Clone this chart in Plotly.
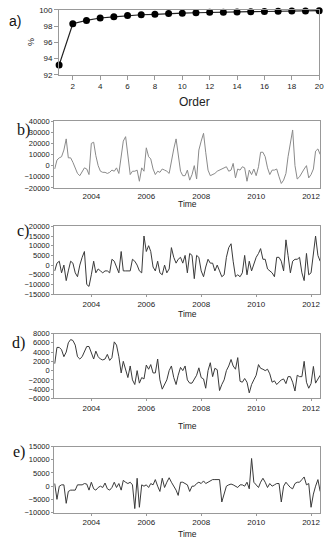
import plotly.graph_objects as go
import pandas as pd

# ---- data ----
order = list(range(1, 21))
pct = [93.2, 98.3, 98.7, 99.0, 99.15, 99.3, 99.4, 99.45, 99.55, 99.6,
       99.65, 99.7, 99.72, 99.75, 99.78, 99.8, 99.82, 99.85, 99.87, 99.9]

series_b = [-3000, 5000, 7000, 8000, 14000, 24000, 7000, 7000, 3000, -2000,
            -7000, -9000, -5000, -2000, -3000, -8000, 20000, 21000, 9000, 0,
            -5000, -6000, -6000, -7000, -6000, -4000, -5000, -2000, -7000, 10000,
            22000, 26000, 10000, -8000, -5000, -5000, -4000, -14000, -2000, -5000,
            16000, 8000, 6000, -3000, -8000, -5000, -6000, -3000, -4000, -5000,
            -7000, 5000, 15000, 24000, 10000, -5000, -9000, -9000, -4000, -13000,
            -8000, 0, -12000, 14000, 22000, 29000, 12000, -4000, -9000, -8000,
            -7000, -5000, -4000, -3000, -2000, -1000, -5000, -4000, 2000, -11000,
            -3000, -4000, -1000, -2000, -14000, -4000, -8000, -3000, -9000, -1000,
            12000, 12000, 8000, -2000, -8000, -4000, -4000, -3000, -10000, -16000,
            -13000, -7000, 8000, 22000, 32000, 0, -12000, -10000, -6000, -3000,
            0, -11000, -8000, -3000, 13000, 15000, 10000]

series_c = [-3000, 1000, 2000, -4000, 0, -8000, -3000, 2000, 1000, -4000,
            -6000, 0, 4000, 7000, -10000, -11000, -5000, 2000, -4000, -2000,
            -3000, -4000, -3000, -3000, -4000, 3000, 2000, -1000, -4000, 7000,
            -3000, -3000, -3000, -3000, 3000, 2000, 0, -3000, -4000, 15000,
            7000, 10000, 7000, -1000, -3000, 2000, -4000, -5000, 0, -4000,
            -2000, 9000, 4000, 1000, 3000, 4000, 1000, 5000, -4000, 6000,
            5000, -7000, 5000, 4000, -3000, -6000, -1000, 3000, 1000, 1000,
            -3000, 0, -3000, -6000, -5000, 4000, 9000, 11000, 2000, -6000,
            -5000, -6000, -4000, 5000, -5000, 2000, -3000, 0, 4000, 6000,
            8500, 3000, 3000, -2000, -3000, -4000, -6000, 4000, 4000, 2000,
            -3000, 13000, 5000, -4000, 2000, 3000, 3000, 4000, -4000, -8000,
            6000, -5000, -4000, 5000, 15000, 5000, 2000]

series_d = [1500, 5000, 5000, 4500, 3000, 4000, 6000, 6700, 6500, 5500,
            3000, 2500, 3000, 4000, 5200, 5200, 4000, 2500, 4200, 3000,
            2500, 2300, 2500, 3500, 2200, 2800, 6200, 5500, 3000, -500,
            2000, 0, -1500, 1000, -2000, -3000, 0, -2700, -1500, -1800,
            1200, 300, 1300, -500, -500, 2500, -2000, -4000, -3000, -2000,
            0, 1000, -1500, -3000, -1000, 700, 0, 1000, -2000, -2700,
            -2700, -2000, -1000, 600, -1500, -1800, -3800, 0, 1700, -1300,
            500, 200, -4300, -3000, -2000, 0, 1000, 2400, 1000, 300,
            2800, -2300, -2500, -1700, -2500, -4800, -3000, -2000, -1000, 1300,
            500, 300, 0, 300, -700, -2500, -2200, -3000, -2500, -2000,
            -1800, -2800, -1300, -1300, -2500, -4400, -1000, -1300, -1300, 2000,
            -2500, -3800, -2800, 900, -2700, -1800, -1000]

series_e = [1000, -5000, 0, 500, 500, -6500, -2000, -1500, -1500, -1500,
            500, 500, 500, 1000, 800, -1500, 1500, -1000, -1500, -500,
            0, -500, 1200, -1000, -1500, -500, 1500, -500, 1000, -1500,
            2200, 1500, 1000, 1500, 500, -8500, 3000, -8000, 500, 0,
            500, -500, 1000, 500, 2500, 0, -2000, 3000, -500, 1500,
            3200, 1500, 0, -1500, -3500, 1500, 1500, 1000, 500, -2000,
            0, 0, 1000, 1500, 1000, 2000, 1000, 1500, 2000, 2500,
            2500, 2500, 2500, -6000, -2500, 0, 500, 800, 500, 0,
            -500, 500, 500, 0, 1500, -1000, 10500, 1500, 500, -500,
            1500, 3000, 1500, -500, 1000, 0, 500, 1000, 1000, -6000,
            0, 1500, 500, -500, -1000, 1000, 1500, 1500, 2500, 3500,
            500, 1000, -8000, -3000, 0, 2500, -2000]

months = pd.date_range("2002-09-01", periods=len(series_b), freq="MS")
year_ticks = ["2004-01-01", "2006-01-01", "2008-01-01", "2010-01-01", "2012-01-01"]
year_labels = ["2004", "2006", "2008", "2010", "2012"]

# ---- figure ----
W, H = 336, 550
fig = go.Figure()

def px_y(p):
    return 1 - p / H

def px_x(p):
    return p / W

SANS = "Liberation Sans, Arial, sans-serif"
SERIF = "Liberation Serif, Times New Roman, serif"

def frame(ticklen=2, size=7.5):
    return dict(showline=True, linecolor="#999", linewidth=1, mirror=True,
                ticks="outside" if ticklen > 0 else "", ticklen=ticklen,
                tickcolor="#999", showgrid=False,
                zeroline=False, tickformat="d",
                tickfont=dict(family=SANS, size=size, color="#222"))

# panel a
fig.add_trace(go.Scatter(x=order, y=pct, mode="lines+markers",
                         line=dict(color="#222", width=1.2),
                         marker=dict(color="black", size=7),
                         cliponaxis=False, xaxis="x", yaxis="y"))
fig.update_layout(
    xaxis=dict(domain=[px_x(60), px_x(324)], range=[1, 20], anchor="y",
               tickvals=list(range(2, 21, 2)), **frame(4, 8)),
    yaxis=dict(domain=[px_y(72), px_y(6)], range=[92, 100], anchor="x",
               tickvals=[92, 94, 96, 98, 100], **frame(4, 8)),
)

# label, values, colour, (top, bottom), y range, y ticks, label pos, Time y, x ticklen
panels = [
    ("b)", series_b, "#8a8a8a", (119, 187), [-20000, 40000], list(range(-20000, 40001, 10000)), (15, 128), 203, 0),
    ("c)", series_c, "#3a3a3a", (226, 295), [-15000, 20000], list(range(-15000, 20001, 5000)), (15, 231), 315, 2),
    ("d)", series_d, "#3a3a3a", (335, 401), [-6000, 8000], list(range(-6000, 8001, 2000)), (10, 345), 429, 2),
    ("e)", series_e, "#3a3a3a", (450, 517), [-10000, 15000], list(range(-10000, 15001, 5000)), (11, 455), 539, 2),
]

annotations = [
    dict(text="a)", x=px_x(7), y=px_y(17), xref="paper", yref="paper",
         xanchor="left", yanchor="middle", showarrow=False,
         font=dict(family=SANS, size=14, color="#111")),
    dict(text="%", x=px_x(32), y=px_y(39), xref="paper", yref="paper",
         textangle=-90, xanchor="center", yanchor="middle", showarrow=False,
         font=dict(family=SANS, size=9, color="#222")),
    dict(text="Order", x=px_x(197), y=px_y(100), xref="paper", yref="paper",
         xanchor="center", yanchor="middle", showarrow=False,
         font=dict(family=SANS, size=12, color="#222")),
]

for k, (lab, vals, col, (top, bot), yr, yt, (lx, ly), ty, xtl) in enumerate(panels, start=2):
    xa, ya = f"x{k}", f"y{k}"
    fig.add_trace(go.Scatter(x=months, y=vals, mode="lines",
                             line=dict(color=col, width=1),
                             xaxis=xa, yaxis=ya))
    fig.layout[f"xaxis{k}"] = dict(domain=[px_x(55), px_x(325)],
                                   range=["2002-08-25", "2012-05-01"],
                                   anchor=ya, type="date",
                                   tickvals=year_ticks, ticktext=year_labels,
                                   **frame(xtl, 8))
    fig.layout[f"yaxis{k}"] = dict(domain=[px_y(bot), px_y(top)], range=yr,
                                   anchor=xa, tickvals=yt, **frame(2, 7.5))
    annotations.append(dict(text=lab, x=px_x(lx), y=px_y(ly), xref="paper", yref="paper",
                            xanchor="left", yanchor="middle", showarrow=False,
                            font=dict(family=SERIF, size=16, color="#111")))
    annotations.append(dict(text="Time", x=px_x(190), y=px_y(ty), xref="paper", yref="paper",
                            xanchor="center", yanchor="middle", showarrow=False,
                            font=dict(family=SANS, size=8.5, color="#222")))

fig.update_layout(width=W, height=H, margin=dict(l=0, r=0, t=0, b=0),
                  paper_bgcolor="white", plot_bgcolor="white",
                  showlegend=False, annotations=annotations)

fig.write_html("out.html", config={"displayModeBar": False},
               post_script="document.body.style.margin='0';document.body.style.overflow='hidden';")
